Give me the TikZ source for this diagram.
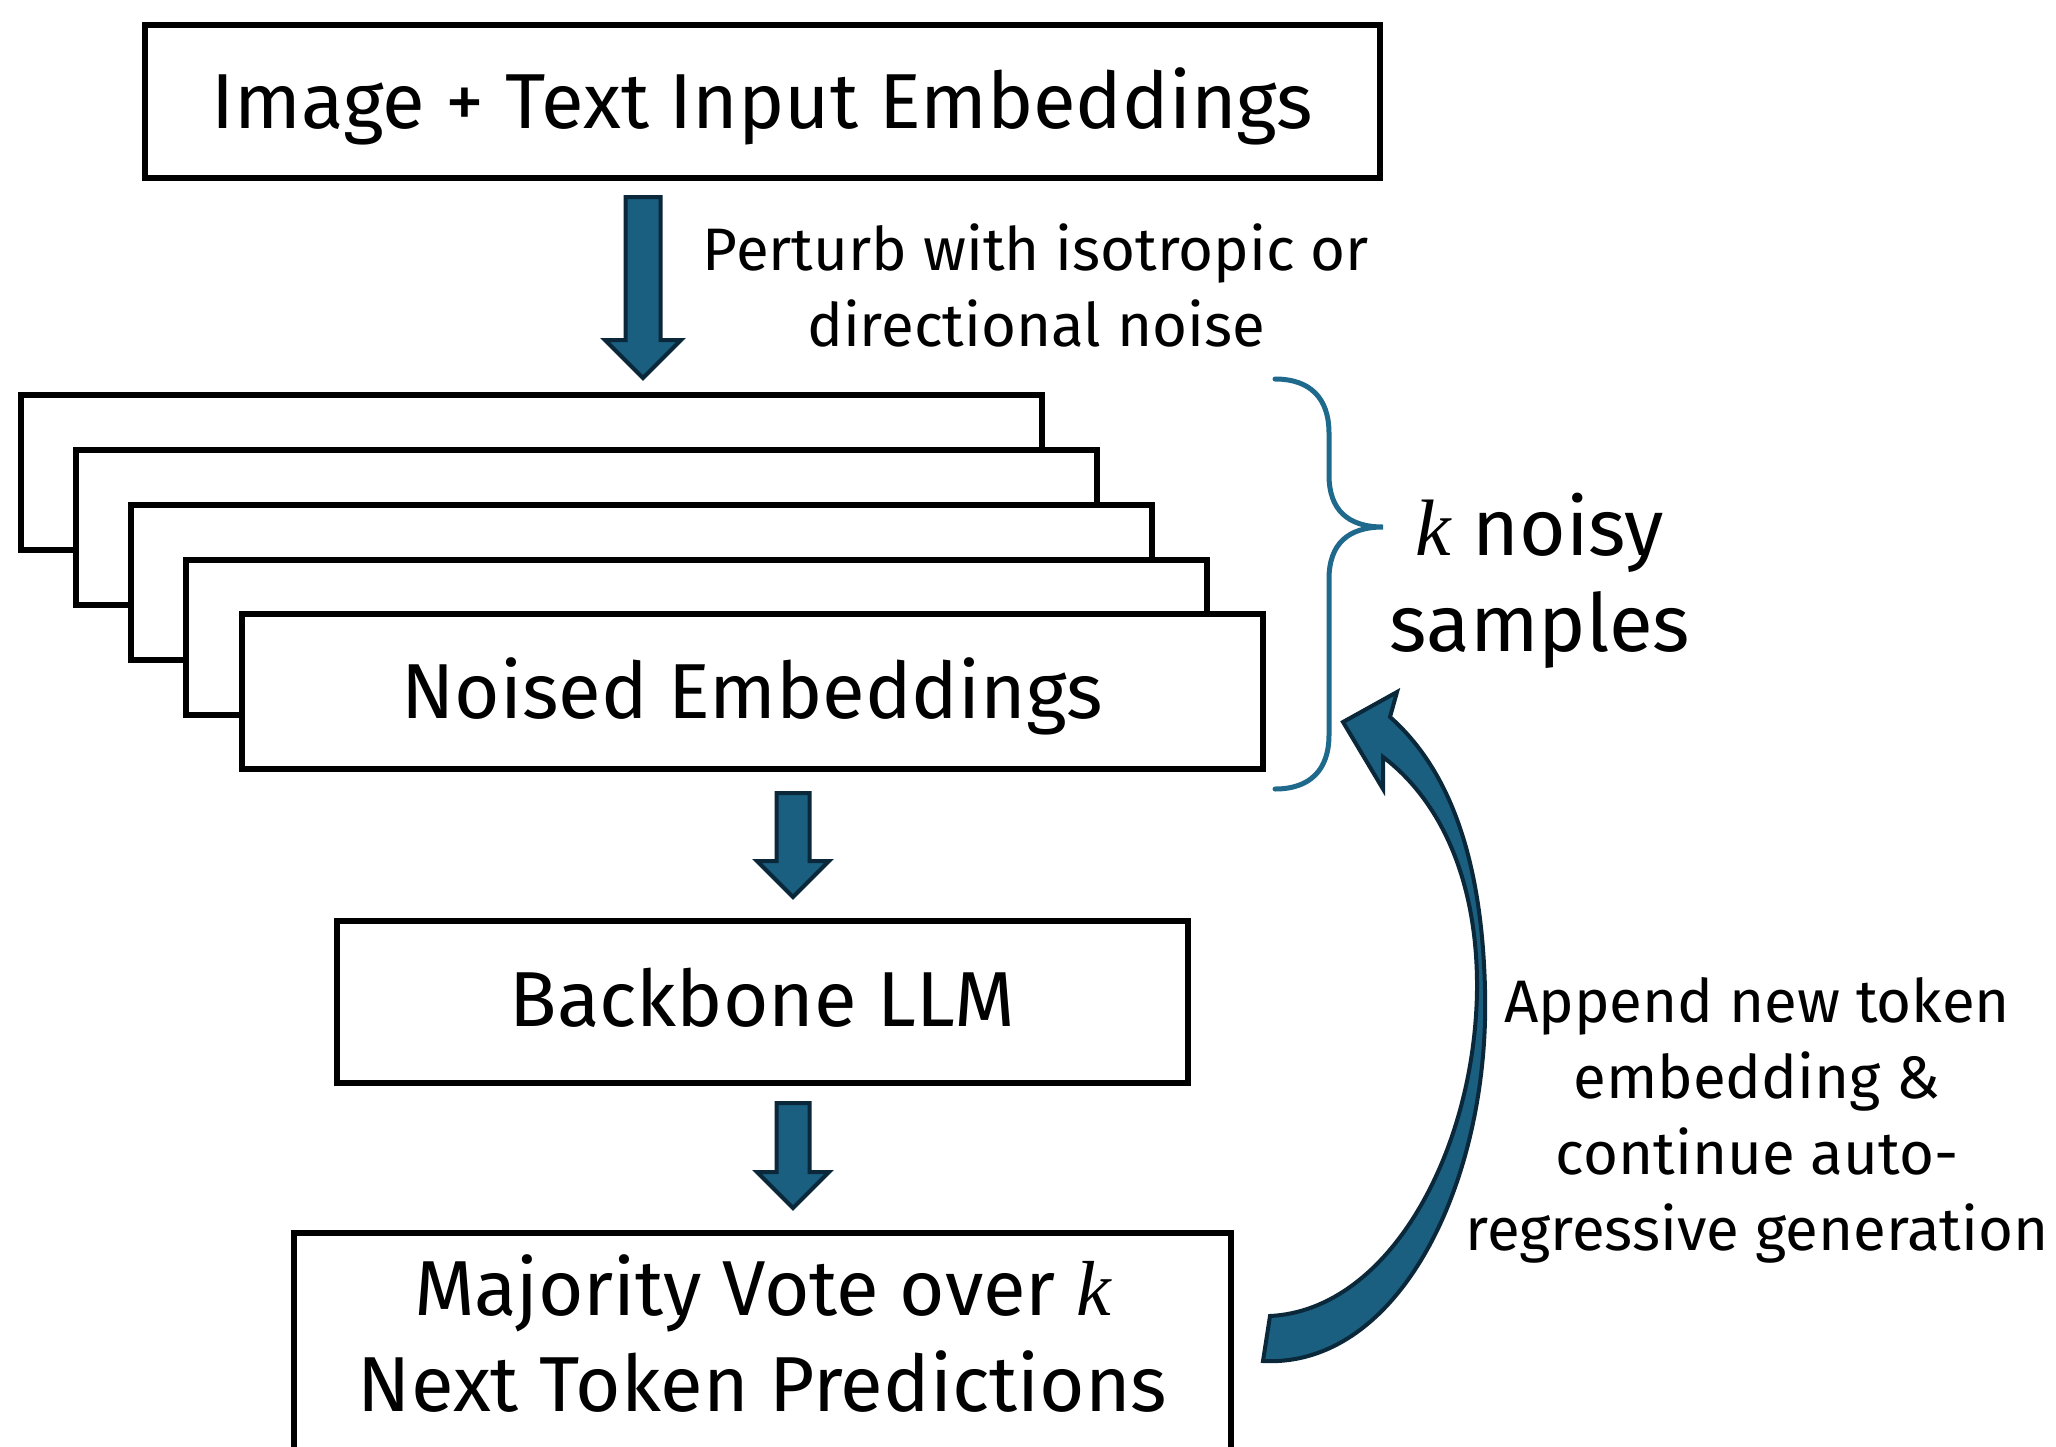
\documentclass[tikz,border=0pt]{standalone}
\usepackage{fontspec}
\setmainfont{Fira Sans}
\newfontfamily\kfont{Liberation Serif}
\usetikzlibrary{calc}
\definecolor{arrfill}{RGB}{26,94,128}
\definecolor{arrline}{RGB}{10,40,58}
\definecolor{bracecol}{RGB}{31,106,140}
\newcommand\BigFont{\fontsize{78}{96}\selectfont}
\newcommand\KFont{\fontsize{80}{96}\selectfont}
\newcommand\SmallFont{\fontsize{60}{76}\selectfont}
\newcommand\kk{{\kfont\itshape k}}
\newcommand\DownArr[4]{% start, end, shaft half, head half
  \draw[bigarr] ($(#1)+(-#3,0)$) -- ($(#1)+(#3,0)$) -- ($(#2)+(#3,-#4)$) -- ($(#2)+(#4,-#4)$) -- (#2)
    -- ($(#2)+(-#4,-#4)$) -- ($(#2)+(-#3,-#4)$) -- cycle;}
\begin{document}
\begin{tikzpicture}[x=1pt,y=-1pt,
  box/.style={draw=black, line width=6pt, fill=white, inner sep=0pt, align=center, font=\BigFont},
  stackbox/.style={draw=black, line width=6pt, fill=white, minimum width=1021pt, minimum height=155pt, inner sep=0pt},
  bigarr/.style={draw=arrline, fill=arrfill, line width=4pt, line join=miter},
  lbl/.style={align=center, inner sep=0pt, font=\SmallFont}]
\clip (0,0) rectangle (2056,1446);
\fill[white] (0,0) rectangle (2056,1446);

% top input box
\node[box, minimum width=1235pt, minimum height=153pt, text height=71pt, text depth=18pt] (inp) at (762.5,101.5) {Image + Text Input Embeddings};

% arrow 1
\coordinate (a1s) at (643,197);
\coordinate (a1e) at (643,378);
\DownArr{a1s}{a1e}{17.5}{38}

\node[lbl] (perturb) at (1036,285) {Perturb with isotropic or\\directional noise};

% stacked boxes
\foreach \i in {0,1,2,3} {
  \node[stackbox] (s\i) at ({531.5+55*\i},{472.5+55*\i}) {};
}
\node[stackbox, font=\BigFont, text height=71pt, text depth=18pt] (noised) at (752,691.5) {Noised Embeddings};

% brace
\draw[bracecol, line width=5pt, line cap=round]
  (1275,379) .. controls (1310,379) and (1329,398) .. (1329,433) -- (1329,475)
  .. controls (1329,510) and (1348,527) .. (1383,527)
  .. controls (1348,527) and (1329,544) .. (1329,579) -- (1329,735)
  .. controls (1329,770) and (1310,789) .. (1275,789);
\node[align=center, inner sep=0pt, font=\KFont] (knoisy) at (1540,581) {\kk{} noisy\\samples};

% arrow 2
\coordinate (a2s) at (793,793);
\coordinate (a2e) at (793,897);
\DownArr{a2s}{a2e}{16.5}{36}

% backbone
\node[box, minimum width=851pt, minimum height=162pt, text height=66pt, text depth=18pt] (llm) at (762.5,1002) {Backbone LLM};

% arrow 3
\coordinate (a3s) at (793,1103);
\coordinate (a3e) at (793,1208);
\DownArr{a3s}{a3e}{16.5}{36}

% majority vote box (cut by picture edge)
\node[box, minimum width=937pt, minimum height=240pt, anchor=north] (vote) at (762.5,1230) {};
\node[align=center, inner sep=0pt, font=\BigFont] (votetxt) at ($(vote.north)+(0,104)$) {Majority Vote over \kk\\Next Token Predictions};

% curved feedback arrow
\coordinate (ctip) at (1343,722);
\draw[bigarr]
  (1263,1361) .. controls (1400,1368) and (1490,1180) .. (1485,990)
  .. controls (1482,860) and (1450,770) .. (1390,717)
  -- (1397,692) -- (ctip) -- (1383,789) -- (1383,757)
  .. controls (1440,800) and (1478,880) .. (1477,990)
  .. controls (1475,1150) and (1390,1310) .. (1270,1316) -- cycle;

\node[lbl] (append) at (1757,1120) {Append new token\\embedding \&\\continue auto-\\regressive generation};
\end{tikzpicture}
\end{document}
